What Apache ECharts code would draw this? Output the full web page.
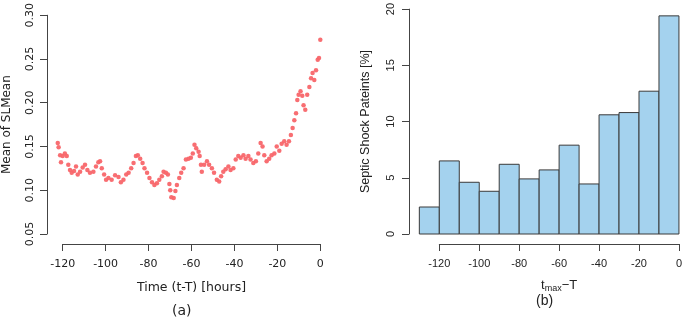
<!DOCTYPE html>
<html>
<head>
<meta charset="utf-8">
<script src="https://cdn.jsdelivr.net/npm/echarts@6/dist/echarts.min.js"></script>
<style>
  html, body { margin: 0; padding: 0; background: #fff; }
  #main { width: 685px; height: 320px; }
</style>
</head>
<body>
<div id="main"></div>
<script>
// (a) mean of SLMean vs time before shock
var times = [-122.3, -121.9, -121.2, -120.8, -120, -119, -118.1, -117.4, -116.6, -115.8,
  -114.7, -113.8, -113, -111.9, -110.7, -109.6, -108.5, -107.3, -105.7, -104.5,
  -103.4, -102.6, -101.8, -100.7, -99.8, -98.7, -97.2, -95.6, -94, -92.9,
  -91.7, -90.4, -89.3, -88.1, -87, -85.9, -85, -83.9, -82.8, -81.9,
  -80.7, -79.6, -78.4, -77.3, -76.1, -75, -73.8, -73, -71.9, -71,
  -70.3, -69.9, -69.4, -68.3, -67.5, -66.8, -65.7, -64.8, -63.7, -62.6,
  -61.4, -60.3, -59.4, -58.6, -57.8, -56.7, -56.2, -55.6, -55.2, -54.1,
  -52.8, -51.8, -50.5, -49.5, -48.2, -47.1, -46.2, -45.2, -44.1, -42.8,
  -41.8, -40.5, -39.4, -38.2, -37.1, -35.8, -34.8, -33.5, -32.5, -31.2,
  -30, -28.9, -27.8, -26.9, -26.1, -25, -23.8, -22.7, -21.4, -20.3,
  -19.1, -18, -16.8, -15.7, -14.6, -13.7, -12.9, -12.1, -11.3, -10.7,
  -10.1, -9.2, -8.4, -7.8, -7, -6.1, -5.1, -4.3, -3.6, -2.8,
  -2, -1.2, -0.6, 0];
var means = [0.154, 0.149, 0.140, 0.132, 0.139, 0.142, 0.139, 0.129, 0.123, 0.120,
  0.122, 0.127, 0.118, 0.121, 0.126, 0.129, 0.123, 0.120, 0.121, 0.127,
  0.132, 0.133, 0.125, 0.118, 0.112, 0.114, 0.112, 0.117, 0.115, 0.109,
  0.112, 0.118, 0.120, 0.125, 0.131, 0.139, 0.140, 0.136, 0.131, 0.125,
  0.120, 0.114, 0.109, 0.106, 0.108, 0.112, 0.116, 0.121, 0.120, 0.118,
  0.107, 0.100, 0.092, 0.091, 0.099, 0.106, 0.114, 0.120, 0.125, 0.135,
  0.136, 0.137, 0.142, 0.152, 0.148, 0.144, 0.139, 0.129, 0.121, 0.129,
  0.133, 0.129, 0.125, 0.120, 0.112, 0.110, 0.116, 0.121, 0.124, 0.127,
  0.123, 0.125, 0.135, 0.139, 0.137, 0.140, 0.136, 0.139, 0.135, 0.131,
  0.133, 0.142, 0.154, 0.150, 0.140, 0.133, 0.136, 0.140, 0.142, 0.150,
  0.145, 0.153, 0.156, 0.152, 0.156, 0.163, 0.171, 0.180, 0.188, 0.203,
  0.209, 0.213, 0.208, 0.197, 0.192, 0.209, 0.218, 0.228, 0.234, 0.226,
  0.237, 0.249, 0.251, 0.272];

// (b) histogram of t_max - T
var binStart = [-130, -120, -110, -100, -90, -80, -70, -60, -50, -40, -30, -20, -10];
var binEnd = [-120, -110, -100, -90, -80, -70, -60, -50, -40, -30, -20, -10, 0];
var percent = [2.4, 6.5, 4.6, 3.8, 6.2, 4.9, 5.7, 7.9, 4.45, 10.6, 10.8, 12.7, 19.4];

var axisCol = '#444';
var myChart = echarts.init(document.getElementById('main'));

var points = times.map(function (t, i) { return [t, means[i]]; });
var bins = binStart.map(function (s, i) { return [s, binEnd[i], percent[i]]; });

function xAx(idx, font, name, gap, margin, nameRich) {
  return {
    type: 'value', gridIndex: idx, min: -120, max: 0, interval: 20, offset: 10,
    splitLine: { show: false },
    axisLine: { onZero: false, lineStyle: { color: axisCol, width: 1 } },
    axisTick: { inside: false, length: 7, lineStyle: { color: axisCol } },
    axisLabel: { color: '#222', fontSize: 11, fontFamily: font, margin: margin },
    name: name, nameLocation: 'middle', nameGap: gap,
    nameTextStyle: { color: '#222', fontSize: 12.5, fontFamily: font, rich: nameRich }
  };
}

var option = {
  animation: false,
  grid: [
    { left: 62.7, top: 15, width: 257.6, height: 219 },
    { left: 439.3, top: 5, width: 243, height: 229 }
  ],
  xAxis: [
    xAx(0, 'DejaVu Sans', 'Time (t-T) [hours]', 37, 15),
    xAx(1, 'Liberation Sans', '{t|t}{s|max}{t|\u2212T}', 34, 14, {
      t: { fontSize: 13, fontFamily: 'Liberation Sans', color: '#222' },
      s: { fontSize: 9, fontFamily: 'Liberation Sans', color: '#222', verticalAlign: 'bottom', padding: [6, 0, 0, 0] }
    })
  ],
  yAxis: [
    {
      type: 'value', gridIndex: 0, min: 0.05, max: 0.30, interval: 0.05, offset: 15.7,
      splitLine: { show: false },
      axisLine: { show: true, onZero: false, lineStyle: { color: axisCol } },
      axisTick: { show: true, length: 7, lineStyle: { color: axisCol } },
      axisLabel: { rotate: 90, color: '#222', fontSize: 11, fontFamily: 'DejaVu Sans', margin: 11,
        formatter: function (v) { return v.toFixed(2); } },
      name: 'Mean of SLMean', nameLocation: 'middle', nameGap: 34,
      nameTextStyle: { color: '#222', fontSize: 12, fontFamily: 'DejaVu Sans' }
    },
    {
      type: 'value', gridIndex: 1, min: 0, max: 20, interval: 5, offset: 30.3,
      splitLine: { show: false },
      axisLine: { show: true, onZero: false, lineStyle: { color: axisCol } },
      axisTick: { show: true, length: 7, lineStyle: { color: axisCol } },
      axisLabel: { rotate: 90, color: '#222', fontSize: 11, fontFamily: 'Liberation Sans', margin: 13 },
      name: 'Septic Shock Pateints [%]', nameLocation: 'middle', nameGap: 37,
      nameTextStyle: { color: '#222', fontSize: 12.5, fontFamily: 'Liberation Sans' }
    }
  ],
  graphic: [
    { type: 'text', left: 172, top: 304, style: { text: '(a)', font: '14px DejaVu Sans', fill: '#222' } },
    { type: 'text', left: 536, top: 294, style: { text: '(b)', font: '14px Liberation Sans', fill: '#222' } }
  ],
  series: [
    {
      type: 'scatter', xAxisIndex: 0, yAxisIndex: 0, clip: false,
      symbolSize: 4.5, data: points,
      itemStyle: { color: '#f8666a', opacity: 0.95 }
    },
    {
      type: 'custom', xAxisIndex: 1, yAxisIndex: 1, clip: false,
      encode: { x: [0, 1], y: 2 },
      data: bins,
      renderItem: function (params, api) {
        var p0 = api.coord([api.value(0), 0]);
        var p1 = api.coord([api.value(1), api.value(2)]);
        return {
          type: 'rect',
          shape: { x: p0[0], y: p1[1], width: p1[0] - p0[0], height: p0[1] - p1[1] },
          style: { fill: '#a4d2ee', stroke: '#3a3a3a', lineWidth: 1 }
        };
      }
    }
  ]
};

myChart.setOption(option);
</script>
</body>
</html>
